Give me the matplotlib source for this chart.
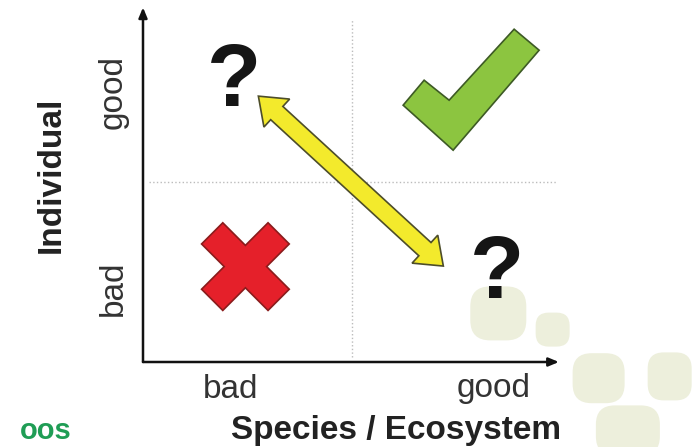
import numpy as np
import matplotlib as mpl
from matplotlib import pyplot as plt
import matplotlib.patches as mpatches

mpl.rcParams['font.family'] = ['Liberation Sans', 'DejaVu Sans']

# axis categories ------------------------------------------------------------
x_ticks = [0.42, 1.68]
x_labels = ["bad", "good"]
y_ticks = [0.41, 1.50]
y_labels = ["bad", "good"]
x_title = "Species / Ecosystem"
y_title = "Individual"

# quadrant symbols (data coords) ---------------------------------------------
question_pos = [(0.435, 1.42), (1.694, 0.356)]
check_pos = (1.57, 1.51)
cross_pos = (0.49, 0.53)
arrow_ends = [(0.552, 1.477), (1.437, 0.533)]

# shape outlines in pixel offsets around their centre (y up)
check_shape = [(-68, -15), (-47, 10), (-22, -10), (43, 61), (68, 40), (-18, -60)]
cross_arm, cross_half = 47, 15

# watermark blobs (data coords, width/height px)
blob_pos = [(1.70, 0.27), (1.96, 0.18), (2.18, -0.09), (2.52, -0.08), (2.32, -0.38)]
blob_wh = [(56, 54), (34, 34), (52, 50), (44, 48), (64, 50)]

fig = plt.figure(figsize=(6.97, 4.47), dpi=100)
ax = fig.add_axes([0, 0, 1, 1])
ax.set_xlim(-143/209, (697-143)/209)
ax.set_ylim((362-447)/180, 362/180)
ax.axis("off")


def poly_px(center, offsets):
    c = ax.transData.transform(center)
    pts = c + np.asarray(offsets, float)
    return ax.transData.inverted().transform(pts)


# watermark ------------------------------------------------------------------
for (bx, by), (bw, bh) in zip(blob_pos, blob_wh):
    cx, cy = ax.transData.transform((bx, by))
    ax.add_patch(mpatches.FancyBboxPatch((cx - bw/2, cy - bh/2), bw, bh,
                                         boxstyle="round,pad=0,rounding_size=%d" % (min(bw, bh)//2.6),
                                         transform=None, facecolor="#edefdc",
                                         edgecolor="none", zorder=0))

# quadrant dividers ----------------------------------------------------------
ax.plot([1, 1], [0.03, 1.90], color="#bcbcbc", lw=1.0, ls=":", zorder=1)
ax.plot([0.03, 1.98], [1, 1], color="#bcbcbc", lw=1.0, ls=":", zorder=1)

# axes arrows ----------------------------------------------------------------
for end in [(0, 1.97), (1.99, 0)]:
    ax.annotate("", xy=end, xytext=(0, 0),
                arrowprops=dict(arrowstyle="-|>,head_length=0.6,head_width=0.25",
                                color="#111111", lw=1.8, shrinkA=0, shrinkB=0), zorder=4)

# tick labels / titles -------------------------------------------------------
for xt, lab in zip(x_ticks, x_labels):
    ax.text(xt, -0.15, lab, ha="center", va="center", fontsize=24, color="#333333")
for yt, lab in zip(y_ticks, y_labels):
    ax.text(-0.144, yt, lab, ha="center", va="center", rotation=90, fontsize=24, color="#333333")
ax.text(1.21, -0.425, x_title, ha="center", va="baseline", fontsize=24,
        fontweight="bold", color="#222222")
ax.text(-0.44, 1.04, y_title, ha="center", va="center", rotation=90, fontsize=24,
        fontweight="bold", color="#222222")
ax.text(-0.589, -0.43, "oos", ha="left", va="baseline", fontsize=21,
        fontweight="bold", color="#1f9d55")

# question marks -------------------------------------------------------------
for qx, qy in question_pos:
    ax.text(qx, qy, "?", ha="center", va="baseline", fontsize=64,
            fontweight="bold", color="#151515", zorder=5)

# green check ----------------------------------------------------------------
ax.add_patch(mpatches.Polygon(poly_px(check_pos, check_shape), closed=True,
                              facecolor="#8cc540", edgecolor="#3d5a25", lw=1.2, zorder=5))

# red cross ------------------------------------------------------------------
a, b = cross_arm, cross_half
plus = np.array([(b, a), (b, b), (a, b), (a, -b), (b, -b), (b, -a),
                 (-b, -a), (-b, -b), (-a, -b), (-a, b), (-b, b), (-b, a)], float)
rot = np.array([[np.cos(np.pi/4), -np.sin(np.pi/4)], [np.sin(np.pi/4), np.cos(np.pi/4)]])
ax.add_patch(mpatches.Polygon(poly_px(cross_pos, plus @ rot.T), closed=True,
                              facecolor="#e5202a", edgecolor="#8a1c1c", lw=1.2, zorder=5))

# yellow double arrow --------------------------------------------------------
p0 = ax.transData.transform(arrow_ends[0])
p1 = ax.transData.transform(arrow_ends[1])
u = (p1 - p0) / np.linalg.norm(p1 - p0)
n = np.array([-u[1], u[0]])
w, hw, hl = 9, 19, 25
outline = [p0, p0 + u*hl + n*hw, p0 + u*hl + n*w, p1 - u*hl + n*w, p1 - u*hl + n*hw,
           p1, p1 - u*hl - n*hw, p1 - u*hl - n*w, p0 + u*hl - n*w, p0 + u*hl - n*hw]
outline = ax.transData.inverted().transform(np.array(outline))
ax.add_patch(mpatches.Polygon(outline, closed=True, facecolor="#f3ea2c",
                              edgecolor="#4d4d2a", lw=1.2, zorder=5))

fig.savefig("out.png", dpi=100)
plt.close()
